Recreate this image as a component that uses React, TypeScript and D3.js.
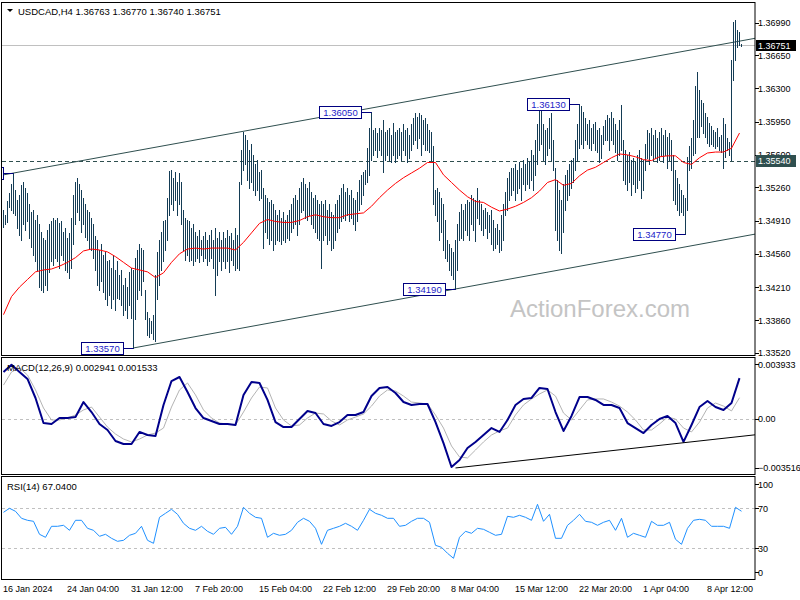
import * as d3 from "d3";

const FONT = '"Liberation Sans", Arial, sans-serif';

// ---- values ----
const chartTitle = "USDCAD,H4  1.36763 1.36770 1.36740 1.36751";
const macdTitle = "MACD(12,26,9) 0.002941 0.001533";
const rsiTitle = "RSI(14) 67.0400";
const watermark = "ActionForex.com";

const timeLabels = [
  "16 Jan 2024", "24 Jan 04:00", "31 Jan 12:00", "7 Feb 20:00", "15 Feb 04:00", "22 Feb 12:00",
  "29 Feb 20:00", "8 Mar 04:00", "15 Mar 12:00", "22 Mar 20:00", "1 Apr 04:00", "8 Apr 12:00",
];
const barsPerTimeLabel = 32;

const priceTicks = [1.3699, 1.3665, 1.363, 1.3595, 1.356, 1.3526, 1.3491, 1.3456, 1.3421, 1.3386, 1.3352];
const lastPrice = 1.36751;
const levelPrice = 1.3554;

const highs = [
  1.3502, 1.3497, 1.3511, 1.3520, 1.3529, 1.3541, 1.3523, 1.3513, 1.3518, 1.3528,
  1.3531, 1.3525, 1.3520, 1.3508, 1.3500, 1.3502, 1.3492, 1.3497, 1.3487, 1.3479,
  1.3473, 1.3471, 1.3481, 1.3487, 1.3490, 1.3494, 1.3492, 1.3494, 1.3488, 1.3490,
  1.3479, 1.3483, 1.3473, 1.3478, 1.3494, 1.3518, 1.3532, 1.3536, 1.3529, 1.3523,
  1.3515, 1.3508, 1.3502, 1.3500, 1.3494, 1.3487, 1.3475, 1.3471, 1.3460, 1.3466,
  1.3455, 1.3458, 1.3448, 1.3450, 1.3441, 1.3455, 1.3439, 1.3448, 1.3434, 1.3439,
  1.3423, 1.3431, 1.3421, 1.3437, 1.3441, 1.3439, 1.3452, 1.3460, 1.3466, 1.3462,
  1.3460, 1.3418, 1.3395, 1.3389, 1.3385, 1.3392, 1.3434, 1.3458, 1.3471, 1.3479,
  1.3490, 1.3492, 1.3515, 1.3543, 1.3544, 1.3536, 1.3542, 1.3532, 1.3541, 1.3532,
  1.3502, 1.3494, 1.3492, 1.3490, 1.3483, 1.3487, 1.3479, 1.3475, 1.3481, 1.3471,
  1.3475, 1.3479, 1.3471, 1.3476, 1.3481, 1.3471, 1.3483, 1.3473, 1.3479, 1.3471,
  1.3479, 1.3473, 1.3481, 1.3475, 1.3478, 1.3471, 1.3483, 1.3476, 1.3531, 1.3565,
  1.3584, 1.3581, 1.3576, 1.3565, 1.3571, 1.3560, 1.3550, 1.3555, 1.3542, 1.3544,
  1.3525, 1.3518, 1.3515, 1.3510, 1.3513, 1.3508, 1.3502, 1.3497, 1.3502, 1.3494,
  1.3500, 1.3492, 1.3497, 1.3502, 1.3508, 1.3515, 1.3518, 1.3513, 1.3525, 1.3532,
  1.3536, 1.3529, 1.3525, 1.3531, 1.3521, 1.3515, 1.3518, 1.3513, 1.3508, 1.3511,
  1.3508, 1.3513, 1.3502, 1.3508, 1.3500, 1.3497, 1.3508, 1.3513, 1.3518, 1.3525,
  1.3529, 1.3521, 1.3525, 1.3518, 1.3523, 1.3515, 1.3513, 1.3521, 1.3534, 1.3539,
  1.3542, 1.3544, 1.3567, 1.3588, 1.3605, 1.3586, 1.3588, 1.3583, 1.3588, 1.3586,
  1.3597, 1.3584, 1.3586, 1.3588, 1.3581, 1.3594, 1.3584, 1.3586, 1.3588, 1.3584,
  1.3592, 1.3586, 1.3588, 1.3581, 1.3592, 1.3599, 1.3604, 1.3600, 1.3604, 1.3602,
  1.3597, 1.3599, 1.3592, 1.3586, 1.3584, 1.3569, 1.3523, 1.3525, 1.3521, 1.3515,
  1.3508, 1.3492, 1.3471, 1.3466, 1.3462, 1.3458, 1.3471, 1.3487, 1.3500, 1.3508,
  1.3502, 1.3508, 1.3513, 1.3510, 1.3518, 1.3515, 1.3513, 1.3525, 1.3513, 1.3508,
  1.3502, 1.3504, 1.3500, 1.3497, 1.3502, 1.3492, 1.3483, 1.3487, 1.3481, 1.3497,
  1.3508, 1.3521, 1.3536, 1.3542, 1.3546, 1.3546, 1.3550, 1.3544, 1.3553, 1.3546,
  1.3555, 1.3550, 1.3557, 1.3553, 1.3565, 1.3560, 1.3576, 1.3592, 1.3609, 1.3607,
  1.3592, 1.3586, 1.3588, 1.3599, 1.3604, 1.3576, 1.3546, 1.3534, 1.3523, 1.3513,
  1.3529, 1.3539, 1.3544, 1.3550, 1.3555, 1.3557, 1.3576, 1.3592, 1.3613, 1.3611,
  1.3605, 1.3599, 1.3592, 1.3597, 1.3588, 1.3592, 1.3595, 1.3586, 1.3588, 1.3581,
  1.3590, 1.3597, 1.3602, 1.3599, 1.3605, 1.3599, 1.3592, 1.3586, 1.3597, 1.3612,
  1.3576, 1.3565, 1.3560, 1.3563, 1.3555, 1.3557, 1.3553, 1.3560, 1.3565, 1.3557,
  1.3555, 1.3571, 1.3586, 1.3583, 1.3588, 1.3581, 1.3586, 1.3578, 1.3584, 1.3588,
  1.3581, 1.3586, 1.3579, 1.3583, 1.3576, 1.3560, 1.3544, 1.3536, 1.3529, 1.3523,
  1.3518, 1.3515, 1.3558, 1.3569, 1.3578, 1.3597, 1.3632, 1.3647, 1.3628, 1.3618,
  1.3615, 1.3604, 1.3600, 1.3594, 1.3590, 1.3586, 1.3584, 1.3588, 1.3579, 1.3581,
  1.3599, 1.3592, 1.3578, 1.3574, 1.3660, 1.3700, 1.3702, 1.3691, 1.3689, 1.3677,
];

const lows = [
  1.3484, 1.3487, 1.3489, 1.3505, 1.3502, 1.3499, 1.3497, 1.3483, 1.3476, 1.3471,
  1.3487, 1.3481, 1.3490, 1.3473, 1.3463, 1.3455, 1.3448, 1.3439, 1.3421, 1.3418,
  1.3416, 1.3423, 1.3418, 1.3437, 1.3448, 1.3444, 1.3452, 1.3448, 1.3441, 1.3455,
  1.3450, 1.3439, 1.3437, 1.3431, 1.3441, 1.3466, 1.3487, 1.3500, 1.3492, 1.3479,
  1.3487, 1.3474, 1.3471, 1.3462, 1.3460, 1.3452, 1.3439, 1.3423, 1.3418, 1.3427,
  1.3416, 1.3408, 1.3402, 1.3413, 1.3399, 1.3408, 1.3397, 1.3410, 1.3408, 1.3402,
  1.3392, 1.3397, 1.3389, 1.3402, 1.3389, 1.3357, 1.3387, 1.3408, 1.3418, 1.3413,
  1.3427, 1.3387, 1.3371, 1.3368, 1.3373, 1.3366, 1.3364, 1.3408, 1.3423, 1.3439,
  1.3448, 1.3460, 1.3471, 1.3497, 1.3508, 1.3502, 1.3513, 1.3497, 1.3508, 1.3487,
  1.3460, 1.3450, 1.3455, 1.3448, 1.3450, 1.3444, 1.3448, 1.3452, 1.3447, 1.3455,
  1.3448, 1.3452, 1.3444, 1.3448, 1.3452, 1.3441, 1.3413, 1.3434, 1.3448, 1.3439,
  1.3448, 1.3441, 1.3448, 1.3437, 1.3450, 1.3444, 1.3439, 1.3441, 1.3439, 1.3529,
  1.3544, 1.3550, 1.3534, 1.3525, 1.3532, 1.3523, 1.3518, 1.3523, 1.3513, 1.3515,
  1.3462, 1.3479, 1.3473, 1.3466, 1.3471, 1.3460, 1.3466, 1.3471, 1.3469, 1.3466,
  1.3471, 1.3468, 1.3473, 1.3471, 1.3479, 1.3483, 1.3487, 1.3476, 1.3487, 1.3500,
  1.3502, 1.3494, 1.3492, 1.3497, 1.3487, 1.3483, 1.3479, 1.3473, 1.3471, 1.3441,
  1.3471, 1.3476, 1.3466, 1.3471, 1.3460, 1.3462, 1.3471, 1.3479, 1.3483, 1.3490,
  1.3494, 1.3492, 1.3497, 1.3490, 1.3494, 1.3487, 1.3481, 1.3490, 1.3502, 1.3508,
  1.3518, 1.3529, 1.3532, 1.3539, 1.3555, 1.3560, 1.3565, 1.3558, 1.3565, 1.3560,
  1.3542, 1.3555, 1.3560, 1.3555, 1.3553, 1.3560, 1.3553, 1.3557, 1.3560, 1.3555,
  1.3565, 1.3560, 1.3553, 1.3557, 1.3565, 1.3571, 1.3576, 1.3567, 1.3578, 1.3560,
  1.3571, 1.3565, 1.3565, 1.3563, 1.3555, 1.3508, 1.3497, 1.3490, 1.3471, 1.3479,
  1.3460, 1.3452, 1.3448, 1.3439, 1.3434, 1.3429, 1.3419, 1.3439, 1.3471, 1.3473,
  1.3471, 1.3481, 1.3476, 1.3471, 1.3487, 1.3481, 1.3469, 1.3494, 1.3487, 1.3481,
  1.3476, 1.3483, 1.3473, 1.3479, 1.3466, 1.3460, 1.3462, 1.3466, 1.3458, 1.3460,
  1.3471, 1.3497, 1.3502, 1.3513, 1.3518, 1.3523, 1.3513, 1.3520, 1.3525, 1.3513,
  1.3529, 1.3523, 1.3529, 1.3525, 1.3534, 1.3523, 1.3539, 1.3550, 1.3565, 1.3571,
  1.3555, 1.3550, 1.3560, 1.3567, 1.3555, 1.3544, 1.3481, 1.3471, 1.3460, 1.3457,
  1.3479, 1.3502, 1.3513, 1.3518, 1.3525, 1.3532, 1.3544, 1.3555, 1.3567, 1.3571,
  1.3567, 1.3576, 1.3571, 1.3567, 1.3565, 1.3573, 1.3565, 1.3563, 1.3553, 1.3557,
  1.3571, 1.3576, 1.3576, 1.3565, 1.3576, 1.3571, 1.3563, 1.3555, 1.3560, 1.3565,
  1.3534, 1.3529, 1.3523, 1.3532, 1.3518, 1.3529, 1.3521, 1.3525, 1.3534, 1.3515,
  1.3523, 1.3544, 1.3557, 1.3550, 1.3560, 1.3555, 1.3557, 1.3553, 1.3555, 1.3560,
  1.3553, 1.3560, 1.3546, 1.3555, 1.3544, 1.3513, 1.3508, 1.3502, 1.3497, 1.3500,
  1.3497, 1.3477, 1.3502, 1.3544, 1.3546, 1.3560, 1.3562, 1.3579, 1.3579, 1.3590,
  1.3583, 1.3579, 1.3573, 1.3569, 1.3571, 1.3569, 1.3567, 1.3569, 1.3565, 1.3563,
  1.3546, 1.3558, 1.3565, 1.3560, 1.3555, 1.3639, 1.3660, 1.3673, 1.3676, 1.3674,
];

// moving average, one reading every 4 bars
const maStep = 4;
const movingAverage = [
  1.3392, 1.3411, 1.3421, 1.3429, 1.3437, 1.3439, 1.3440, 1.3443, 1.3447, 1.3452,
  1.3459, 1.3461, 1.3460, 1.3458, 1.3453, 1.3447, 1.3441, 1.3439, 1.3437, 1.3431,
  1.3436, 1.3447, 1.3456, 1.3461, 1.3462, 1.3461, 1.3462, 1.3462, 1.3462, 1.3460,
  1.3468, 1.3478, 1.3488, 1.3492, 1.3490, 1.3489, 1.3489, 1.3491, 1.3495, 1.3497,
  1.3495, 1.3494, 1.3494, 1.3497, 1.3498, 1.3499, 1.3506, 1.3515, 1.3523, 1.3530,
  1.3536, 1.3541, 1.3546, 1.3552, 1.3552, 1.3539, 1.3531, 1.3523, 1.3516, 1.3511,
  1.3510, 1.3505, 1.3501, 1.3503, 1.3506, 1.3510, 1.3515, 1.3522, 1.3531, 1.3534,
  1.3528, 1.3530, 1.3538, 1.3544, 1.3547, 1.3552, 1.3557, 1.3561, 1.3560, 1.3558,
  1.3555, 1.3554, 1.3558, 1.3559, 1.3559, 1.3552, 1.3550, 1.3557, 1.3562, 1.3563,
  1.3563, 1.3567, 1.3583,
];

// MACD(12,26,9), one reading every 4 bars
const macdStep = 4;
const macdMain = [
  0.00338, 0.00390, 0.00338, 0.00288, 0.00151, -0.00029, -0.00036, 0.00007, 0.00007, 0.00014,
  0.00122, 0.00050, -0.00036, -0.00079, -0.00158, -0.00180, -0.00180, -0.00093, -0.00115, -0.00122,
  0.00101, 0.00273, 0.00302, 0.00194, 0.00079, 0.00007, -0.00014, -0.00036, -0.00036, -0.00043,
  0.00173, 0.00266, 0.00259, 0.00137, -0.00022, -0.00058, -0.00058, 0.00000, 0.00058, 0.00043,
  -0.00036, -0.00050, -0.00022, 0.00029, 0.00029, 0.00050, 0.00165, 0.00223, 0.00230, 0.00187,
  0.00122, 0.00101, 0.00108, 0.00108, -0.00022, -0.00173, -0.00345, -0.00295, -0.00209, -0.00165,
  -0.00115, -0.00065, -0.00093, -0.00007, 0.00101, 0.00144, 0.00151, 0.00223, 0.00216, 0.00050,
  -0.00086, 0.00022, 0.00158, 0.00158, 0.00137, 0.00101, 0.00101, 0.00079, -0.00029, -0.00065,
  -0.00101, -0.00043, 0.00000, 0.00022, -0.00029, -0.00165, -0.00043, 0.00086, 0.00129, 0.00086,
  0.00065, 0.00115, 0.00294,
];
const macdSignal = [
  0.00244, 0.00338, 0.00367, 0.00316, 0.00209, 0.00079, -0.00007, -0.00007, 0.00007, 0.00029,
  0.00065, 0.00086, 0.00014, -0.00058, -0.00108, -0.00144, -0.00165, -0.00144, -0.00115, -0.00101,
  -0.00065, 0.00086, 0.00209, 0.00259, 0.00173, 0.00065, 0.00007, -0.00029, -0.00036, -0.00043,
  0.00050, 0.00151, 0.00230, 0.00223, 0.00079, -0.00007, -0.00050, -0.00043, 0.00007, 0.00043,
  0.00036, -0.00014, -0.00043, -0.00007, 0.00014, 0.00036, 0.00093, 0.00165, 0.00209, 0.00201,
  0.00165, 0.00122, 0.00115, 0.00108, 0.00029, -0.00065, -0.00194, -0.00273, -0.00280, -0.00223,
  -0.00165, -0.00115, -0.00086, -0.00065, 0.00029, 0.00101, 0.00144, 0.00180, 0.00209, 0.00165,
  0.00043, -0.00007, 0.00065, 0.00137, 0.00144, 0.00144, 0.00122, 0.00093, 0.00050, -0.00007,
  -0.00079, -0.00079, -0.00036, 0.00014, 0.00000, -0.00065, -0.00093, -0.00022, 0.00079, 0.00115,
  0.00093, 0.00058, 0.00153,
];
const macdMax = 0.003933;
const macdMin = -0.003516;

// RSI(14), one reading every 3 bars
const rsiStep = 3;
const rsiValues = [
  66, 70, 67, 60, 58, 57, 44, 41, 52, 52,
  53, 48, 58, 58, 50, 48, 42, 44, 40, 37,
  38, 43, 45, 52, 38, 35, 61, 65, 69, 64,
  55, 50, 48, 52, 47, 44, 50, 51, 44, 52,
  71, 65, 61, 60, 41, 45, 43, 44, 48, 56,
  60, 57, 50, 34, 48, 50, 52, 55, 52, 48,
  58, 69, 65, 63, 60, 60, 52, 53, 57, 60,
  60, 56, 33, 31, 25, 20, 41, 47, 45, 50,
  49, 46, 43, 44, 62, 61, 63, 61, 58, 74,
  57, 64, 40, 40, 53, 58, 64, 57, 56, 53,
  56, 58, 48, 60, 41, 45, 43, 41, 57, 53,
  53, 56, 39, 34, 50, 58, 59, 58, 52, 52,
  52, 50, 71, 67.04,
];
const rsiLevels = [70, 30];
const rsiTicks = [100, 70, 30, 0];

// swing labels drawn on the chart
const pivotBars = [5, 65, 184, 226, 288, 341];
const pivotPrices = [1.3541, 1.3357, 1.3605, 1.3419, 1.3613, 1.3477];

// trend lines as [bar, value] anchors
const upperChannel: [number, number][] = [[0, 1.3539], [369, 1.368]];
const lowerChannel: [number, number][] = [[65, 1.3357], [226, 1.3419]];
const macdTrend: [number, number][] = [[226, -0.00352], [375, -0.00115]];

const BAR = "#143c55";
const SLATE = "#2f4f4f";
const NAVY = "#000080";

function lineValue(pts: [number, number][], bar: number) {
  const [[b0, v0], [b1, v1]] = pts;
  return v0 + ((v1 - v0) * (bar - b0)) / (b1 - b0);
}

export default function App() {
  const n = highs.length;
  const left = 2;
  const right = 755;
  const main = { top: 2, bottom: 355 };
  const macdPane = { top: 357, bottom: 474 };
  const rsiPane = { top: 476, bottom: 579 };

  const x = d3.scaleLinear().domain([0, n - 1]).range([3.5, 3.5 + 2 * (n - 1)]);
  const yP = d3.scaleLinear().domain([1.3352, 1.3699]).range([352.7, 22.7]);
  const yM = d3.scaleLinear().domain([macdMin, macdMax]).range([467.9, 364.3]);
  const yR = d3.scaleLinear().domain([0, 100]).range([578.3, 478.3]);
  const fmt = d3.format(".5f");
  const barEnd = x.invert(right);
  const barStart = x.invert(left);
  const px = (v: number) => Math.round(v) + 0.5;

  const barsPath = highs
    .map((h, i) => `M${x(i)},${Math.round(yP(h))}V${Math.round(yP(lows[i])) + 1}`)
    .join("");

  const maLine = d3
    .line<number>()
    .x((_, i) => x(i * maStep))
    .y((d) => yP(d))(movingAverage);
  const macdPath = d3
    .line<number>()
    .x((_, i) => x(Math.min(i * macdStep, n - 1)))
    .y((d) => yM(d));
  const rsiPath = d3
    .line<number>()
    .x((_, i) => x(i * rsiStep))
    .y((d) => yR(d))(rsiValues);

  const textProps = { fontFamily: FONT, fontSize: 9 };

  return (
    <svg
      width={800}
      height={600}
      style={{ position: "absolute", left: 0, top: 0, background: "#ffffff" }}
    >
      <defs>
        <clipPath id="mainClip">
          <rect x={left} y={main.top} width={right - left} height={main.bottom - main.top} />
        </clipPath>
        <clipPath id="macdClip">
          <rect x={left} y={macdPane.top} width={right - left} height={macdPane.bottom - macdPane.top} />
        </clipPath>
      </defs>
      <rect x={0} y={0} width={800} height={600} fill="#ffffff" />

      {/* main pane */}
      <g clipPath="url(#mainClip)">
        <text x={510} y={317} fontFamily={FONT} fontSize={24} fill="#c4c4c4">
          {watermark}
        </text>
        <line x1={left} x2={right} y1={px(yP(lastPrice))} y2={px(yP(lastPrice))} stroke="#c0c0c0" />
        <line
          x1={left}
          x2={right}
          y1={px(yP(levelPrice))}
          y2={px(yP(levelPrice))}
          stroke={SLATE}
          strokeDasharray="4,3"
        />
        <line
          x1={left}
          y1={yP(lineValue(upperChannel, barStart))}
          x2={right}
          y2={yP(lineValue(upperChannel, barEnd))}
          stroke={SLATE}
          strokeWidth={1}
        />
        <line
          x1={x(lowerChannel[0][0])}
          y1={yP(lowerChannel[0][1])}
          x2={right}
          y2={yP(lineValue(lowerChannel, barEnd))}
          stroke={SLATE}
          strokeWidth={1}
        />
        <path d={barsPath} stroke={BAR} strokeWidth={1} fill="none" shapeRendering="crispEdges" />
        <path d={maLine ?? ""} stroke="#ff0000" strokeWidth={1} fill="none" />
        {pivotBars.map((b, i) => {
          const bx = x(b);
          const by = px(yP(pivotPrices[i]));
          const boxRight = bx - 10;
          const inside = boxRight - 42 >= left;
          return (
            <g key={b}>
              <line x1={boxRight} x2={bx} y1={by} y2={by} stroke={NAVY} />
              <rect x={boxRight - 42} y={by - 6} width={42} height={12} fill="#ffffff" stroke={NAVY} />
              {inside && (
                <text x={boxRight - 21} y={by + 3.5} textAnchor="middle" {...textProps} fontSize={9.5} fill="#1c1cc8">
                  {fmt(pivotPrices[i])}
                </text>
              )}
            </g>
          );
        })}
      </g>
      <path d="M7,9H13L10,12Z" fill="#000000" />
      <text x={18} y={14.5} {...textProps} fontSize={9.5} fill="#000000">
        {chartTitle}
      </text>

      {/* MACD pane */}
      <g clipPath="url(#macdClip)">
        <line x1={left} x2={right} y1={px(yM(0))} y2={px(yM(0))} stroke="#c0c0c0" strokeDasharray="3,3" />
        <path d={macdPath(macdSignal) ?? ""} stroke="#b4b4b4" strokeWidth={1} fill="none" />
        <path d={macdPath(macdMain) ?? ""} stroke="#00008b" strokeWidth={2} fill="none" strokeLinejoin="round" />
        <line
          x1={x(macdTrend[0][0])}
          y1={yM(macdTrend[0][1])}
          x2={right}
          y2={yM(lineValue(macdTrend, barEnd))}
          stroke="#000000"
          strokeWidth={1}
        />
      </g>
      <text x={7} y={371} {...textProps} fontSize={9.5} fill="#000000">
        {macdTitle}
      </text>

      {/* RSI pane */}
      {rsiLevels.map((l) => (
        <line key={l} x1={left} x2={right} y1={px(yR(l))} y2={px(yR(l))} stroke="#c0c0c0" strokeDasharray="3,3" />
      ))}
      <path d={rsiPath ?? ""} stroke="#1e90ff" strokeWidth={1} fill="none" />
      <text x={7} y={490} {...textProps} fontSize={9.5} fill="#000000">
        {rsiTitle}
      </text>

      {/* pane frames */}
      {[main, macdPane, rsiPane].map((p, i) => (
        <rect
          key={i}
          x={left - 0.5}
          y={p.top + 0.5}
          width={right - left + 0.5}
          height={p.bottom - p.top}
          fill="none"
          stroke="#000000"
          strokeWidth={1}
        />
      ))}

      {/* price axis */}
      {priceTicks.map((t) => (
        <g key={t}>
          <line x1={right} x2={right + 4} y1={px(yP(t))} y2={px(yP(t))} stroke="#000000" />
          <text x={758} y={yP(t) + 3.5} {...textProps} fill="#000000">
            {fmt(t)}
          </text>
        </g>
      ))}
      <rect x={756} y={Math.round(yP(lastPrice)) - 5} width={40} height={11} fill="#000000" />
      <text x={758} y={yP(lastPrice) + 3.5} {...textProps} fill="#ffffff">
        {fmt(lastPrice)}
      </text>
      <rect x={756} y={Math.round(yP(levelPrice)) - 6} width={40} height={12} fill={SLATE} />
      <text x={758} y={yP(levelPrice) + 3.5} {...textProps} fill="#ffffff">
        {fmt(levelPrice)}
      </text>

      {/* MACD axis */}
      {[macdMax, 0, macdMin].map((t) => (
        <g key={t}>
          <line x1={right} x2={right + 4} y1={px(yM(t))} y2={px(yM(t))} stroke="#000000" />
          <text x={758} y={yM(t) + 3.5} {...textProps} fill="#000000">
            {t === 0 ? "0.00" : d3.format(".6f")(t)}
          </text>
        </g>
      ))}

      {/* RSI axis */}
      {rsiTicks.map((t) => {
        const ty = Math.min(Math.max(yR(t), 484), 572);
        return (
          <g key={t}>
            <line x1={right} x2={right + 4} y1={px(ty)} y2={px(ty)} stroke="#000000" />
            <text x={758} y={ty + 3.5} {...textProps} fill="#000000">
              {t}
            </text>
          </g>
        );
      })}

      {/* time axis */}
      {timeLabels.map((label, i) => (
        <text key={label} x={x(i * barsPerTimeLabel) - 0.5} y={592} {...textProps} fill="#000000">
          {label}
        </text>
      ))}
    </svg>
  );
}
